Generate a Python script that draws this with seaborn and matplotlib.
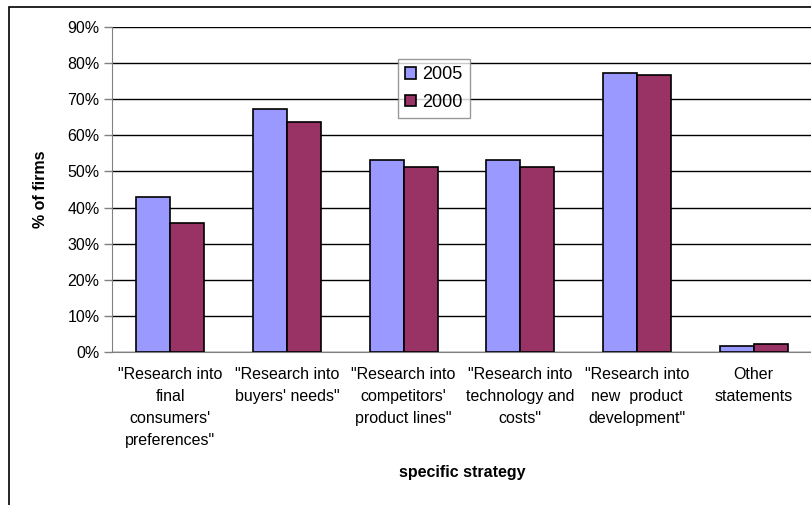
import pandas as pd
import seaborn as sns
import matplotlib.pyplot as plt
from matplotlib.patches import Rectangle

# data
categories = ['"Research into\nfinal\nconsumers\'\npreferences"',
              '"Research into\nbuyers\' needs"',
              '"Research into\ncompetitors\'\nproduct lines"',
              '"Research into\ntechnology and\ncosts"',
              '"Research into\nnew  product\ndevelopment"',
              'Other\nstatements']
years = ["2005", "2000"]
share_2005 = [42.9, 67.2, 53.2, 53.2, 77.4, 1.8]
share_2000 = [35.7, 63.8, 51.1, 51.1, 76.7, 2.2]

df = pd.DataFrame({
    "cat": categories * 2,
    "year": [years[0]] * 6 + [years[1]] * 6,
    "val": share_2005 + share_2000,
})

sns.set_style("white")
plt.rcParams["font.family"] = ["Liberation Sans", "DejaVu Sans"]
plt.rcParams["text.color"] = "black"
plt.rcParams["axes.labelcolor"] = "black"
plt.rcParams["xtick.color"] = "black"
plt.rcParams["ytick.color"] = "black"

fig = plt.figure(figsize=(8.11, 5.05), dpi=100)
ax = fig.add_axes([112 / 811, 1 - 352 / 505, 700 / 811, 325 / 505])

sns.barplot(data=df, x="cat", y="val", hue="year", palette=["#9999FF", "#993366"],
            saturation=1, edgecolor="black", linewidth=1.2, width=0.583, gap=0,
            ax=ax, zorder=3)

ax.set_ylim(0, 90)
ax.set_xlim(-0.5, 5.5)
ax.set_yticks(range(0, 91, 10))
ax.set_yticklabels([f"{v}%" for v in range(0, 91, 10)], fontsize=11.5)
ax.yaxis.grid(True, color="black", linewidth=1)
ax.set_axisbelow(True)

ax.set_xticks(range(6))
ax.set_xticklabels(categories, fontsize=11.5, linespacing=1.58)
ax.tick_params(axis="x", length=0, pad=11)
ax.set_xticks([i - 0.5 for i in range(7)], minor=True)
ax.tick_params(axis="x", which="minor", length=5, color="#808080", width=1)
ax.tick_params(axis="y", length=6, color="#808080", labelcolor="black", width=1, pad=3, left=True)

for s in ["top", "right"]:
    ax.spines[s].set_visible(False)
ax.spines["left"].set_color("#808080")
ax.spines["bottom"].set_color("#808080")

ax.set_xlabel("specific strategy", fontsize=11.5, fontweight="bold", labelpad=12)
ax.set_ylabel("% of firms", fontsize=11.5, fontweight="bold", labelpad=14)

leg = ax.legend(loc="upper left", bbox_to_anchor=(286 / 700, 1 - 32 / 325),
                borderaxespad=0, fontsize=13, frameon=True, fancybox=False,
                edgecolor="#808080", handlelength=0.6, handleheight=0.6,
                handletextpad=0.35, borderpad=0.4, labelspacing=0.6)
leg.get_frame().set_linewidth(1)

# outer chart border
fig.patches.append(Rectangle((9 / 811, -0.1), 1.2, 1.1 - 7 / 505, transform=fig.transFigure,
                             fill=False, edgecolor="black", linewidth=1.2))

fig.savefig("out.png", dpi=100)
